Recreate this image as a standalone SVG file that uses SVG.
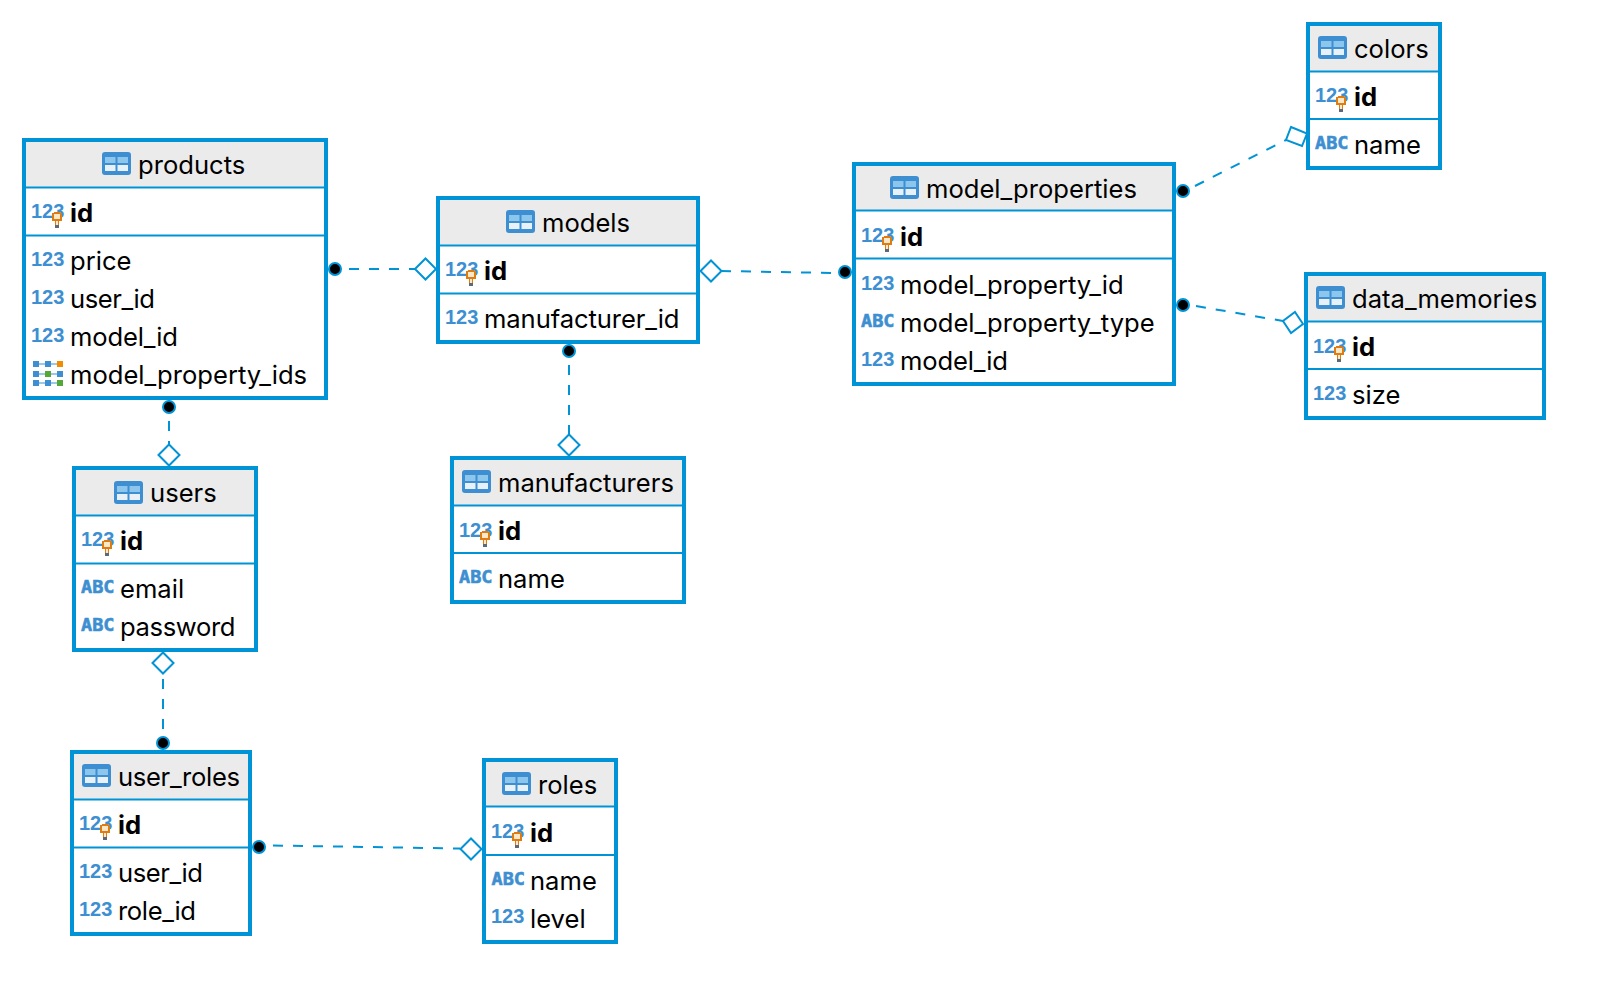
<svg xmlns="http://www.w3.org/2000/svg" width="1604" height="1002" viewBox="0 0 1604 1002">
<style>
.b{fill:#fff;stroke:#0093d5;stroke-width:4}
.h{fill:#ebebeb}
.l{stroke:#0093d5;stroke-width:2;fill:none}
.t{font-family:Inter,"Noto Sans",sans-serif;font-size:25.6px;fill:#000}
.k{font-weight:700}
.i{font-family:"Liberation Sans",Arial,sans-serif;font-size:20px;font-weight:700;fill:#3d8fd1}
.a{font-family:"DejaVu Sans Mono","Liberation Mono",monospace;font-size:18.500px;font-weight:700;fill:#3d8fd1;stroke:#3d8fd1;stroke-width:.6}
.c{stroke:#0093d5;stroke-width:2;fill:none;stroke-dasharray:10 10}
.d{fill:#fff;stroke:#0093d5;stroke-width:2}
.p{fill:#000;stroke:#0093d5;stroke-width:2}
</style>
<defs>
<g id="tbl"><rect width="29" height="23" rx="3" fill="#3d8fd1"/><rect x="3" y="5" width="10.500" height="6" fill="#8cc6ec"/><rect x="15.500" y="5" width="10.500" height="6" fill="#8cc6ec"/><rect x="3" y="13" width="10.500" height="6" fill="#e8f1f8"/><rect x="15.500" y="13" width="10.500" height="6" fill="#e8f1f8"/></g>
<g id="key"><rect x="0" y="1" width="10" height="8" fill="#e07b10"/><rect x="2" y="0" width="6" height="1" fill="#e07b10"/><rect x="2" y="2" width="6" height="5" fill="#fbe8c8"/><rect x="3" y="9" width="4" height="4" fill="#e07b10"/><rect x="4" y="9" width="2" height="4" fill="#fbe8c8"/><rect x="3" y="13" width="4" height="3" fill="#5a6a7a"/></g>
<g id="arr"><g fill="#3d8fd1"><rect x="0" y="0" width="6" height="6"/><rect x="12" y="0" width="6" height="6"/><rect x="0" y="10" width="6" height="6"/><rect x="24" y="10" width="6" height="6"/><rect x="0" y="19" width="6" height="6"/><rect x="12" y="19" width="6" height="6"/><rect x="6" y="2.500" width="6" height="1"/><rect x="18" y="2.500" width="6" height="1"/><rect x="6" y="12.500" width="6" height="1"/><rect x="18" y="12.500" width="6" height="1"/><rect x="6" y="21.500" width="6" height="1"/><rect x="18" y="21.500" width="6" height="1"/></g><rect x="24" y="0" width="6" height="6" fill="#f28c00"/><rect x="12" y="10" width="6" height="6" fill="#54a838"/><rect x="24" y="19" width="6" height="6" fill="#54a838"/></g>
</defs>
<rect width="1604" height="1002" fill="#fff"/>
<g id="connectors">
<path class="c" d="M349 269H415"/>
<path class="c" d="M721 271L835 273"/>
<path class="c" d="M1195 186L1286 140"/>
<path class="c" d="M1196 306L1283 321"/>
<path class="c" d="M569 365V435"/>
<path class="c" d="M169 421V444"/>
<path class="c" d="M163 679V731"/>
<path class="c" d="M273 845.500L460 848.500"/>
<circle class="p" cx="335" cy="269" r="6"/><path class="d" d="M415 269l10.500-10.500 10.500 10.500-10.500 10.500z"/>
<path class="d" d="M700.500 271l10.500-10.500 10.500 10.500-10.500 10.500z"/><circle class="p" cx="845" cy="272" r="6"/>
<circle class="p" cx="1183" cy="191" r="6"/><path class="d" d="M1291 127l16 6.500-5 12.500-16-6z"/>
<circle class="p" cx="1183" cy="305" r="6"/><path class="d" d="M1295 312l8 12-12 9-8-12z"/>
<circle class="p" cx="569" cy="351" r="6"/><path class="d" d="M558.500 445l10.500-10.500 10.500 10.500-10.500 10.500z"/>
<circle class="p" cx="169" cy="407" r="6"/><path class="d" d="M158.500 455l10.500-10.500 10.500 10.500-10.500 10.500z"/>
<path class="d" d="M152.500 663l10.500-10.500 10.500 10.500-10.500 10.500z"/><circle class="p" cx="163" cy="743" r="6"/>
<circle class="p" cx="259" cy="847" r="6"/><path class="d" d="M460.500 849l10.500-10.500 10.500 10.500-10.500 10.500z"/>
</g>
<g id="products">
<rect class="b" x="24" y="140" width="302" height="258"/><rect class="h" x="26" y="142" width="298" height="45"/>
<path class="l" d="M26 187.500H324M26 235.500H324"/>
<use href="#tbl" x="102" y="152"/><text class="t" x="138" y="174">products</text>
<text class="i" x="31" y="218">123</text><use href="#key" x="52" y="212"/><text class="t k" x="70" y="222">id</text>
<text class="i" x="31" y="266">123</text><text class="t" x="70" y="270">price</text>
<text class="i" x="31" y="304">123</text><text class="t" x="70" y="308" textLength="85">user_id</text>
<text class="i" x="31" y="342">123</text><text class="t" x="70" y="346" textLength="108">model_id</text>
<use href="#arr" x="33" y="361"/><text class="t" x="70" y="384">model_property_ids</text>
</g>
<g id="models">
<rect class="b" x="438" y="198" width="260" height="144"/><rect class="h" x="440" y="200" width="256" height="45"/>
<path class="l" d="M440 245.500H696M440 293.500H696"/>
<use href="#tbl" x="506" y="210"/><text class="t" x="542" y="232">models</text>
<text class="i" x="445" y="276">123</text><use href="#key" x="466" y="270"/><text class="t k" x="484" y="280">id</text>
<text class="i" x="445" y="324">123</text><text class="t" x="484" y="328" textLength="195.500">manufacturer_id</text>
</g>
<g id="model_properties">
<rect class="b" x="854" y="164" width="320" height="220"/><rect class="h" x="856" y="166" width="316" height="44"/>
<path class="l" d="M856 210.500H1172M856 258.500H1172"/>
<use href="#tbl" x="890" y="176"/><text class="t" x="926" y="198">model_properties</text>
<text class="i" x="861" y="242">123</text><use href="#key" x="882" y="236"/><text class="t k" x="900" y="246">id</text>
<text class="i" x="861" y="290">123</text><text class="t" x="900" y="294">model_property_id</text>
<text class="a" x="861" y="327">ABC</text><text class="t" x="900" y="332">model_property_type</text>
<text class="i" x="861" y="366">123</text><text class="t" x="900" y="370" textLength="108">model_id</text>
</g>
<g id="colors">
<rect class="b" x="1308" y="24" width="132" height="144"/><rect class="h" x="1310" y="26" width="128" height="45"/>
<path class="l" d="M1310 71.500H1438M1310 119H1438"/>
<use href="#tbl" x="1318" y="36"/><text class="t" x="1354" y="58">colors</text>
<text class="i" x="1315" y="102">123</text><use href="#key" x="1336" y="96"/><text class="t k" x="1354" y="106">id</text>
<text class="a" x="1315" y="149">ABC</text><text class="t" x="1354" y="154">name</text>
</g>
<g id="data_memories">
<rect class="b" x="1306" y="274" width="238" height="144"/><rect class="h" x="1308" y="276" width="234" height="45"/>
<path class="l" d="M1308 321.500H1542M1308 369H1542"/>
<use href="#tbl" x="1316" y="286"/><text class="t" x="1352" y="307.500">data_memories</text>
<text class="i" x="1313" y="353">123</text><use href="#key" x="1334" y="346"/><text class="t k" x="1352" y="356">id</text>
<text class="i" x="1313" y="400">123</text><text class="t" x="1352" y="403.500">size</text>
</g>
<g id="users">
<rect class="b" x="74" y="468" width="182" height="182"/><rect class="h" x="76" y="470" width="178" height="45"/>
<path class="l" d="M76 515.500H254M76 563.500H254"/>
<use href="#tbl" x="114" y="481"/><text class="t" x="150" y="502">users</text>
<text class="i" x="81" y="546">123</text><use href="#key" x="102" y="540"/><text class="t k" x="120" y="550">id</text>
<text class="a" x="81" y="593">ABC</text><text class="t" x="120" y="598">email</text>
<text class="a" x="81" y="631">ABC</text><text class="t" x="120" y="636" textLength="115.500">password</text>
</g>
<g id="manufacturers">
<rect class="b" x="452" y="458" width="232" height="144"/><rect class="h" x="454" y="460" width="228" height="45"/>
<path class="l" d="M454 505.500H682M454 553H682"/>
<use href="#tbl" x="462" y="470"/><text class="t" x="498" y="492">manufacturers</text>
<text class="i" x="459" y="537">123</text><use href="#key" x="480" y="531"/><text class="t k" x="498" y="540">id</text>
<text class="a" x="459" y="583">ABC</text><text class="t" x="498" y="588">name</text>
</g>
<g id="user_roles">
<rect class="b" x="72" y="752" width="178" height="182"/><rect class="h" x="74" y="754" width="174" height="45"/>
<path class="l" d="M74 799.500H248M74 847.500H248"/>
<use href="#tbl" x="82" y="764"/><text class="t" x="118" y="786" textLength="122">user_roles</text>
<text class="i" x="79" y="830">123</text><use href="#key" x="100" y="824"/><text class="t k" x="118" y="834">id</text>
<text class="i" x="79" y="878">123</text><text class="t" x="118" y="882" textLength="85">user_id</text>
<text class="i" x="79" y="916">123</text><text class="t" x="118" y="920" textLength="78">role_id</text>
</g>
<g id="roles">
<rect class="b" x="484" y="760" width="132" height="182"/><rect class="h" x="486" y="762" width="128" height="44"/>
<path class="l" d="M486 806.500H614M486 855H614"/>
<use href="#tbl" x="502" y="772"/><text class="t" x="538" y="793.500">roles</text>
<text class="i" x="491" y="838">123</text><use href="#key" x="512" y="832"/><text class="t k" x="530" y="842">id</text>
<text class="a" x="491.500" y="885">ABC</text><text class="t" x="530" y="890">name</text>
<text class="i" x="491" y="923">123</text><text class="t" x="530" y="927.500">level</text>
</g>
</svg>
